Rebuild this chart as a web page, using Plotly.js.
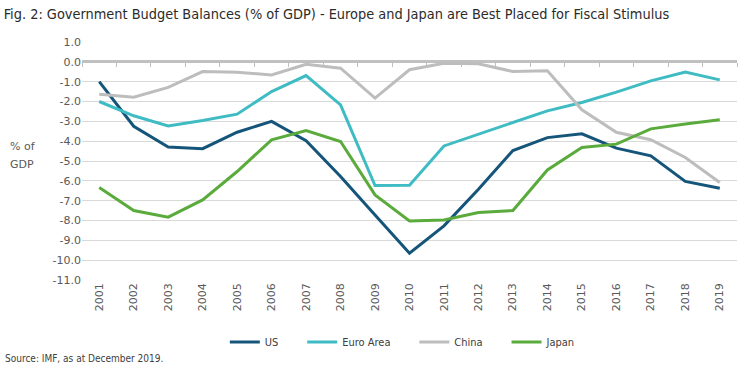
<!DOCTYPE html>
<html>
<head>
<meta charset="utf-8">
<script src="https://cdn.plot.ly/plotly-3.0.1.min.js"></script>
<style>html,body{margin:0;padding:0;background:#fff;}#chart{width:742px;height:367px;}</style>
</head>
<body>
<div id="chart"></div>
<script>
var years = ["2001","2002","2003","2004","2005","2006","2007","2008","2009","2010","2011","2012","2013","2014","2015","2016","2017","2018","2019"];
var usValues = [-1.0,-3.25,-4.3,-4.38,-3.55,-3.0,-3.98,-5.78,-7.72,-9.65,-8.27,-6.42,-4.47,-3.82,-3.63,-4.35,-4.74,-6.03,-6.37];
var euroValues = [-2.0,-2.72,-3.23,-2.96,-2.64,-1.5,-0.69,-2.17,-6.24,-6.22,-4.24,-3.65,-3.06,-2.47,-2.05,-1.53,-0.96,-0.52,-0.91];
var chinaValues = [-1.63,-1.78,-1.29,-0.49,-0.52,-0.66,-0.12,-0.32,-1.83,-0.4,-0.07,-0.1,-0.49,-0.45,-2.42,-3.55,-3.93,-4.82,-6.08];
var japanValues = [-6.34,-7.5,-7.83,-6.96,-5.53,-3.93,-3.46,-4.02,-6.71,-8.02,-7.97,-7.6,-7.5,-5.45,-4.32,-4.15,-3.38,-3.13,-2.92];
var seriesNames = ["US","Euro Area","China","Japan"];
var seriesColors = ["#15557a","#3fbcc3","#bdbdbd","#5aab3c"];
var yTickVals = [1,0,-1,-2,-3,-4,-5,-6,-7,-8,-9,-10,-11];
var yTickText = yTickVals.map(function(v){return v.toFixed(1);});

var condensed = 'DejaVu Sans Condensed, DejaVu Sans, sans-serif';
var all = [usValues, euroValues, chinaValues, japanValues];
var pad = '\u00a0\u00a0\u00a0\u00a0\u00a0\u00a0';
var traces = all.map(function(vals, i){
  return {x: years, y: vals, type: 'scatter', mode: 'lines', name: seriesNames[i] + (i < all.length - 1 ? pad : ''),
    line: {color: seriesColors[i], width: 3}, xaxis: 'x', yaxis: 'y'};
});
// invisible trace so the zero-line tick axis is drawn
traces.push({x: [0], y: [0], xaxis: 'x2', yaxis: 'y', mode: 'markers', marker: {opacity: 0}, showlegend: false, hoverinfo: 'skip'});

var yMin = -11, yMax = 1;
var layout = {
  width: 742, height: 367,
  margin: {l: 82, r: 5, t: 42, b: 87, autoexpand: false},
  paper_bgcolor: '#fff', plot_bgcolor: '#fff',
  font: {family: condensed, color: '#595959', size: 11},
  showlegend: true,
  legend: {orientation: 'h', x: 0.303, xref: 'container', xanchor: 'left', y: 0.068, yref: 'container', yanchor: 'middle',
    font: {family: condensed, size: 11, color: '#404040'}, itemwidth: 30, traceorder: 'normal'},
  xaxis: {type: 'category', range: [-0.5, 18.5], showgrid: false, zeroline: false, showline: false, automargin: false,
    ticks: '', tickangle: -90, tickfont: {family: 'DejaVu Sans, sans-serif', size: 11, color: '#595959'}, fixedrange: true},
  xaxis2: {overlaying: 'x', anchor: 'free', position: (0 - yMin) / (yMax - yMin), side: 'bottom',
    range: [-0.5, 18.5], tickmode: 'linear', tick0: -0.5, dtick: 1, ticks: 'outside', ticklen: 4,
    tickcolor: '#c0c0c0', tickwidth: 1, showticklabels: false, showgrid: false, zeroline: false, showline: false},
  yaxis: {range: [yMin, yMax], tickvals: yTickVals, ticktext: yTickText, showgrid: true, gridcolor: '#d9d9d9', gridwidth: 1,
    zeroline: true, zerolinecolor: '#c0c0c0', zerolinewidth: 3, ticks: '', automargin: false,
    tickfont: {family: 'DejaVu Sans, sans-serif', size: 11, color: '#595959'}, fixedrange: true},
  annotations: [
    {text: '% of', xref: 'paper', yref: 'paper', x: -0.113, y: 0.559, xanchor: 'left', yanchor: 'middle', showarrow: false,
      font: {family: 'DejaVu Sans, sans-serif', size: 11, color: '#595959'}},
    {text: 'GDP', xref: 'paper', yref: 'paper', x: -0.113, y: 0.487, xanchor: 'left', yanchor: 'middle', showarrow: false,
      font: {family: 'DejaVu Sans, sans-serif', size: 11, color: '#595959'}},
    {text: 'Source: IMF, as at December 2019.', xref: 'paper', yref: 'paper', x: -0.121, y: -0.328,
      xanchor: 'left', yanchor: 'middle', showarrow: false, font: {family: condensed, size: 10, color: '#404040'}}
  ],
  title: {text: 'Fig. 2: Government Budget Balances (% of GDP) - Europe and Japan are Best Placed for Fiscal Stimulus',
    x: 0.005, xanchor: 'left', xref: 'container', y: 0.963, yanchor: 'middle', yref: 'container',
    font: {family: condensed, size: 14.4, color: '#2b2b2b'}}
};
Plotly.newPlot('chart', traces, layout, {staticPlot: true, displayModeBar: false});
</script>
</body>
</html>
